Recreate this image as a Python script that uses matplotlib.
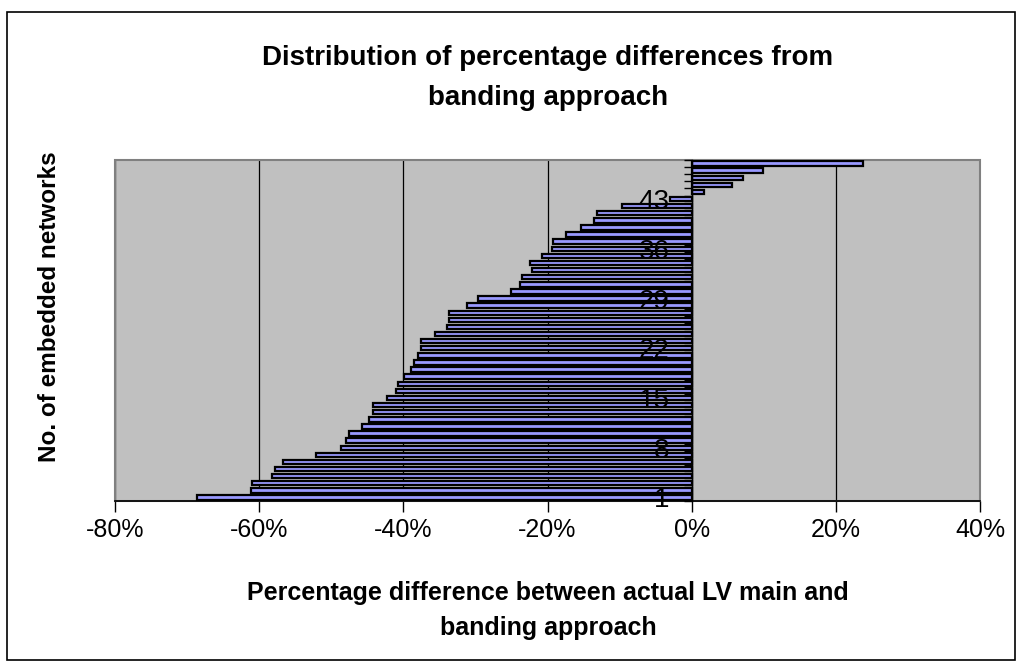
import numpy as np
import matplotlib
matplotlib.use("Agg")
import matplotlib.pyplot as plt
from matplotlib.patches import Rectangle
from matplotlib.ticker import FixedLocator, FuncFormatter

# network index (1 = bottom) and % difference vs banding approach
networks = list(range(1, 49))
pct_diff = [
    -68.6, -61.1, -61.0, -58.2, -57.8, -56.7, -52.1, -48.6, -47.9, -47.6,
    -45.8, -44.7, -44.2, -44.2, -42.2, -41.0, -40.7, -39.9, -39.0, -38.5,
    -37.9, -37.6, -37.6, -35.6, -33.9, -33.7, -33.6, -31.1, -29.7, -25.1,
    -23.75, -23.5, -22.2, -22.4, -20.8, -19.4, -19.2, -17.5, -15.3, -13.5,
    -13.2, -9.6, -3.0, 1.7, 5.6, 7.1, 9.9, 23.75,
]
label_networks = [1, 8, 15, 22, 29, 36, 43]
x_ticks = [-80, -60, -40, -20, 0, 20, 40]

plt.rcParams['font.family'] = ['Liberation Sans', 'DejaVu Sans']

W, H = 1023, 666
fig = plt.figure(figsize=(W / 100, H / 100), dpi=100)
fig.patch.set_facecolor('white')

# outer chart frame
fig.patches.append(Rectangle((7 / W, 1 - 660 / H), 1008 / W, 648 / H,
                             transform=fig.transFigure, fill=False,
                             edgecolor='black', linewidth=1.2))

# plot area in pixels: x 115..980, y 160..501
ax = fig.add_axes([115 / W, 1 - 501 / H, 865 / W, 341 / H])
ax.set_facecolor('#C0C0C0')

ax.barh(networks, pct_diff, height=0.62, color='#9999FF',
        edgecolor='black', linewidth=1.6, zorder=3)

ax.set_xlim(-80, 40)
ax.set_ylim(0.5, 48.5)

# vertical gridlines
ax.set_xticks(x_ticks)
ax.xaxis.set_major_formatter(FuncFormatter(lambda v, p: f'{int(v)}%'))
ax.grid(axis='x', color='black', linewidth=0.9, zorder=1)
ax.tick_params(axis='x', direction='out', length=8, width=1, pad=4,
               labelsize=18)

# category axis crosses at 0
ax.spines['left'].set_position(('data', 0))
ax.spines['left'].set_zorder(4)
ax.spines['left'].set_linewidth(1.0)
ax.spines['right'].set_visible(False)
ax.spines['top'].set_visible(False)
ax.spines['bottom'].set_linewidth(1.2)

ax.yaxis.set_major_locator(FixedLocator(np.arange(0.5, 49, 1)))
ax.yaxis.set_major_formatter(FuncFormatter(lambda v, p: ''))
ax.yaxis.set_minor_locator(FixedLocator(label_networks))
ax.yaxis.set_minor_formatter(FuncFormatter(lambda v, p: f'{int(v)}'))
ax.tick_params(axis='y', which='major', direction='out', length=6, width=1)
ax.tick_params(axis='y', which='minor', length=0, pad=16, labelsize=20)
ax.yaxis.set_zorder(5)

# gray plot-area border
ax.add_patch(Rectangle((0, 0), 1, 1, transform=ax.transAxes, fill=False,
                       edgecolor='#808080', linewidth=1.5, zorder=2,
                       clip_on=False))

fig.text(548 / W, 1 - 58 / H, 'Distribution of percentage differences from',
         ha='center', va='center', fontsize=20, fontweight='bold')
fig.text(548 / W, 1 - 98 / H, 'banding approach',
         ha='center', va='center', fontsize=20, fontweight='bold')

fig.text(548 / W, 1 - 593 / H,
         'Percentage difference between actual LV main and',
         ha='center', va='center', fontsize=18, fontweight='bold')
fig.text(548 / W, 1 - 628 / H, 'banding approach',
         ha='center', va='center', fontsize=18, fontweight='bold')

fig.text(50 / W, 1 - 307 / H, 'No. of embedded networks', rotation=90,
         ha='center', va='center', fontsize=17.5, fontweight='bold')

fig.savefig('out.png', dpi=100)
